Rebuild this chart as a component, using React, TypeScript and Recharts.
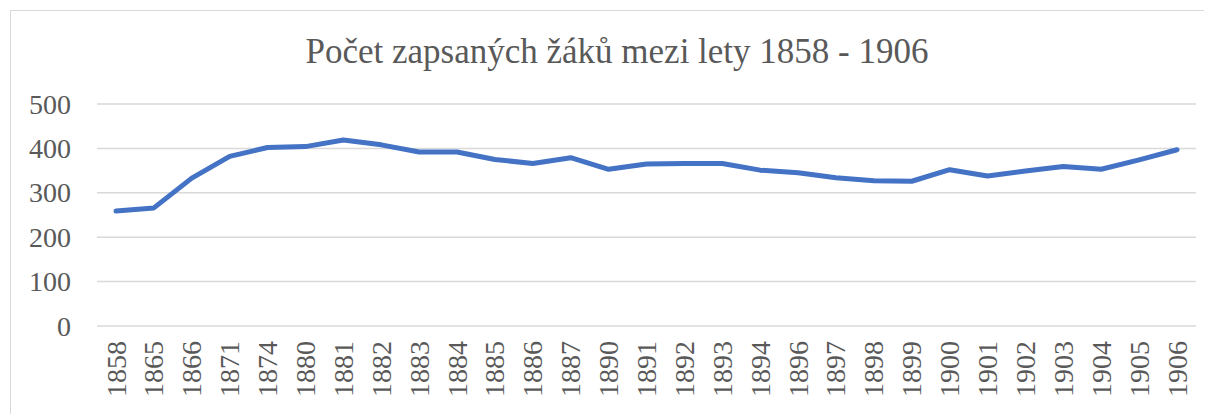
import { LineChart, Line, XAxis, YAxis, CartesianGrid } from 'recharts'

const years = [
  '1858', '1865', '1866', '1871', '1874', '1880', '1881', '1882', '1883', '1884',
  '1885', '1886', '1887', '1890', '1891', '1892', '1893', '1894', '1896', '1897',
  '1898', '1899', '1900', '1901', '1902', '1903', '1904', '1905', '1906',
]

// enrolled pupils per year
const pupils = [
  259, 266, 333, 382, 402, 404, 419, 408, 392, 392,
  375, 366, 379, 353, 365, 366, 366, 351, 345, 334,
  327, 326, 352, 338, 349, 359, 353, 374, 397,
]

const yTicks = [0, 100, 200, 300, 400, 500]

const TITLE = 'Počet zapsaných žáků mezi lety 1858 - 1906'
const FONT = "'Liberation Serif', 'Times New Roman', serif"
const TEXT = '#595959'

const data = years.map((y, i) => ({ year: y, value: pupils[i] }))

function YearTick(props: any) {
  const { x, y, payload } = props
  return (
    <text
      x={x}
      y={y}
      transform={`rotate(-90, ${x}, ${y})`}
      textAnchor="end"
      dy="0.34em"
      fill={TEXT}
      style={{ fontFamily: FONT, fontSize: 28 }}
    >
      {payload.value}
    </text>
  )
}

function CountTick(props: any) {
  const { x, y, payload } = props
  return (
    <text
      x={x}
      y={y}
      textAnchor="end"
      dy="0.34em"
      fill={TEXT}
      style={{ fontFamily: FONT, fontSize: 28 }}
    >
      {payload.value}
    </text>
  )
}

export default function App() {
  return (
    <div
      style={{
        position: 'relative',
        marginLeft: 2,
        marginTop: 2,
        width: 1210,
        height: 410,
        border: '1px solid #d9d9d9',
        borderRight: 'none',
        borderBottom: 'none',
        overflow: 'hidden',
        background: '#fff',
      }}
    >
      <div
        style={{
          position: 'absolute',
          left: 0,
          top: 21,
          width: 1212,
          textAlign: 'center',
          fontFamily: FONT,
          fontSize: 35,
          color: TEXT,
          lineHeight: '40px',
          whiteSpace: 'nowrap',
        }}
      >
        {TITLE}
      </div>
      <LineChart
        width={1200}
        height={400}
        data={data}
        margin={{ top: 93, right: 15, left: 0, bottom: 0 }}
        style={{ fontFamily: FONT }}
      >
        <CartesianGrid vertical={false} stroke="#d9d9d9" strokeWidth={1.5} />
        <XAxis
          dataKey="year"
          interval={0}
          axisLine={false}
          tickLine={false}
          height={85}
          padding={{ left: 19, right: 19 }}
          tickMargin={9}
          tick={<YearTick />}
        />
        <YAxis
          domain={[0, 500]}
          ticks={yTicks}
          axisLine={false}
          tickLine={false}
          width={86}
          tickMargin={20}
          tick={<CountTick />}
        />
        <Line
          type="linear"
          dataKey="value"
          stroke="#4472c4"
          strokeWidth={5}
          strokeLinejoin="round"
          strokeLinecap="round"
          dot={false}
          isAnimationActive={false}
        />
      </LineChart>
    </div>
  )
}
